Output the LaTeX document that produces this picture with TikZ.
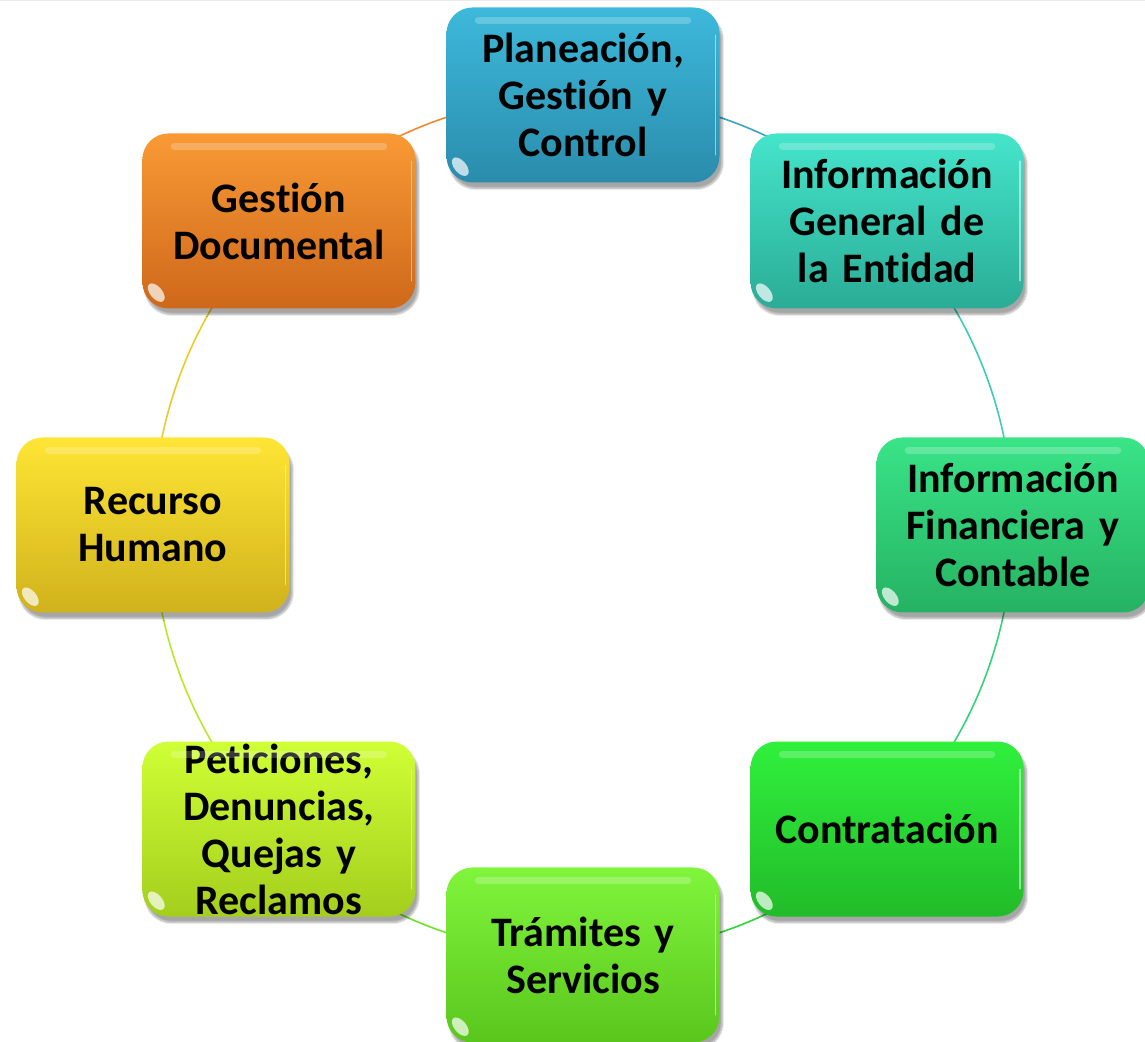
\documentclass[tikz,border=0pt]{standalone}
\usepackage{fontspec}
\setmainfont{Carlito}[Ligatures=NoCommon, WordSpace=0.85]
\usetikzlibrary{shadows.blur,calc}
\definecolor{pT}{HTML}{3DB9DB}\definecolor{pB}{HTML}{2A8CAC}\definecolor{pL}{HTML}{3BA3C4}
\definecolor{gT}{HTML}{45E5CB}\definecolor{gB}{HTML}{2AAC96}\definecolor{gL}{HTML}{3ECDB3}
\definecolor{fT}{HTML}{3AE487}\definecolor{fB}{HTML}{25B262}\definecolor{fL}{HTML}{35D27A}
\definecolor{cT}{HTML}{30F03C}\definecolor{cB}{HTML}{21BC29}\definecolor{cL}{HTML}{2BD835}
\definecolor{tT}{HTML}{80F53C}\definecolor{tB}{HTML}{5AC61D}\definecolor{tL}{HTML}{6EE02D}
\definecolor{qT}{HTML}{CFFF35}\definecolor{qB}{HTML}{A4CE1D}\definecolor{qL}{HTML}{B8E82A}
\definecolor{rT}{HTML}{FFE535}\definecolor{rB}{HTML}{D0B21B}\definecolor{rL}{HTML}{E8CC2A}
\definecolor{dT}{HTML}{F99A35}\definecolor{dB}{HTML}{CE681A}\definecolor{dL}{HTML}{F08A30}
\tikzset{
  gbox/.style n args={2}{rounded corners=26pt, minimum width=273pt, minimum height=175pt,
    text width=268pt, align=center, inner sep=0pt,
    top color=#1, bottom color=#2, draw=none,
    blur shadow={shadow xshift=3pt, shadow yshift=-6pt, shadow blur steps=8, shadow opacity=35},
    font=\bfseries\fontsize{42}{47}\selectfont},
  ring/.style={line width=1.6pt},
  glare/.style={white, opacity=.7},
  hilite/.style={white, opacity=.22, line width=7pt, line cap=round},
  edge/.style={white, opacity=.5, line width=1.5pt, line cap=round}
}
\newcommand\glossy[1]{%
  \fill[glare] ($(#1.south west)+(14,16)$) ellipse[x radius=11, y radius=6, rotate=-50];
  \draw[hilite] ($(#1.north west)+(32,-13)$) -- ($(#1.north east)+(-32,-13)$);
  \draw[edge] ($(#1.north east)+(-4,-28)$) -- ($(#1.south east)+(-4,28)$);
}
\begin{document}
\begin{tikzpicture}[x=1pt,y=1pt]
\useasboundingbox (0,0) rectangle (1145,1041);
\fill[black!8] (0,1039.5) rectangle (1145,1041);
\coordinate (C) at (583,516);
% nodes positions
\coordinate (Pc) at ($(C)+(90:430)$);
\coordinate (Gc) at ($(C)+(45:430)$);
\coordinate (Fc) at ($(C)+(0:430)$);
\coordinate (Kc) at ($(C)+(-45:430)$);
\coordinate (Tc) at ($(C)+(-90:430)$);
\coordinate (Qc) at ($(C)+(-135:430)$);
\coordinate (Rc) at ($(C)+(180:430)$);
\coordinate (Dc) at ($(C)+(135:430)$);
% ring arcs
\draw[ring,pL] (Pc) arc[start angle=90, end angle=45, radius=430];
\draw[ring,gL] (Gc) arc[start angle=45, end angle=0, radius=430];
\draw[ring,fL] (Fc) arc[start angle=0, end angle=-45, radius=430];
\draw[ring,cL] (Kc) arc[start angle=-45, end angle=-90, radius=430];
\draw[ring,tL] (Tc) arc[start angle=-90, end angle=-135, radius=430];
\draw[ring,qL] (Qc) arc[start angle=-135, end angle=-180, radius=430];
\draw[ring,rL] (Rc) arc[start angle=180, end angle=135, radius=430];
\draw[ring,dL] (Dc) arc[start angle=135, end angle=90, radius=430];
% boxes
\node[gbox={pT}{pB}] (P) at (Pc) {Planeación,\\Gestión y\\Control};
\glossy{P}
\node[gbox={gT}{gB}] (G) at (Gc) {Información\\General de\\la Entidad};
\glossy{G}
\node[gbox={fT}{fB}] (F) at (Fc) {Información\\Financiera y\\Contable};
\glossy{F}
\node[gbox={cT}{cB}] (K) at (Kc) {Contratación};
\glossy{K}
\node[gbox={tT}{tB}] (T) at (Tc) {Trámites y\\Servicios};
\glossy{T}
\node[gbox={qT}{qB}] (Q) at (Qc) {Peticiones,\\Denuncias,\\Quejas y\\Reclamos};
\glossy{Q}
\node[gbox={rT}{rB}] (R) at (Rc) {Recurso\\Humano};
\glossy{R}
\node[gbox={dT}{dB}] (D) at (Dc) {Gestión\\Documental};
\glossy{D}
\end{tikzpicture}
\end{document}
